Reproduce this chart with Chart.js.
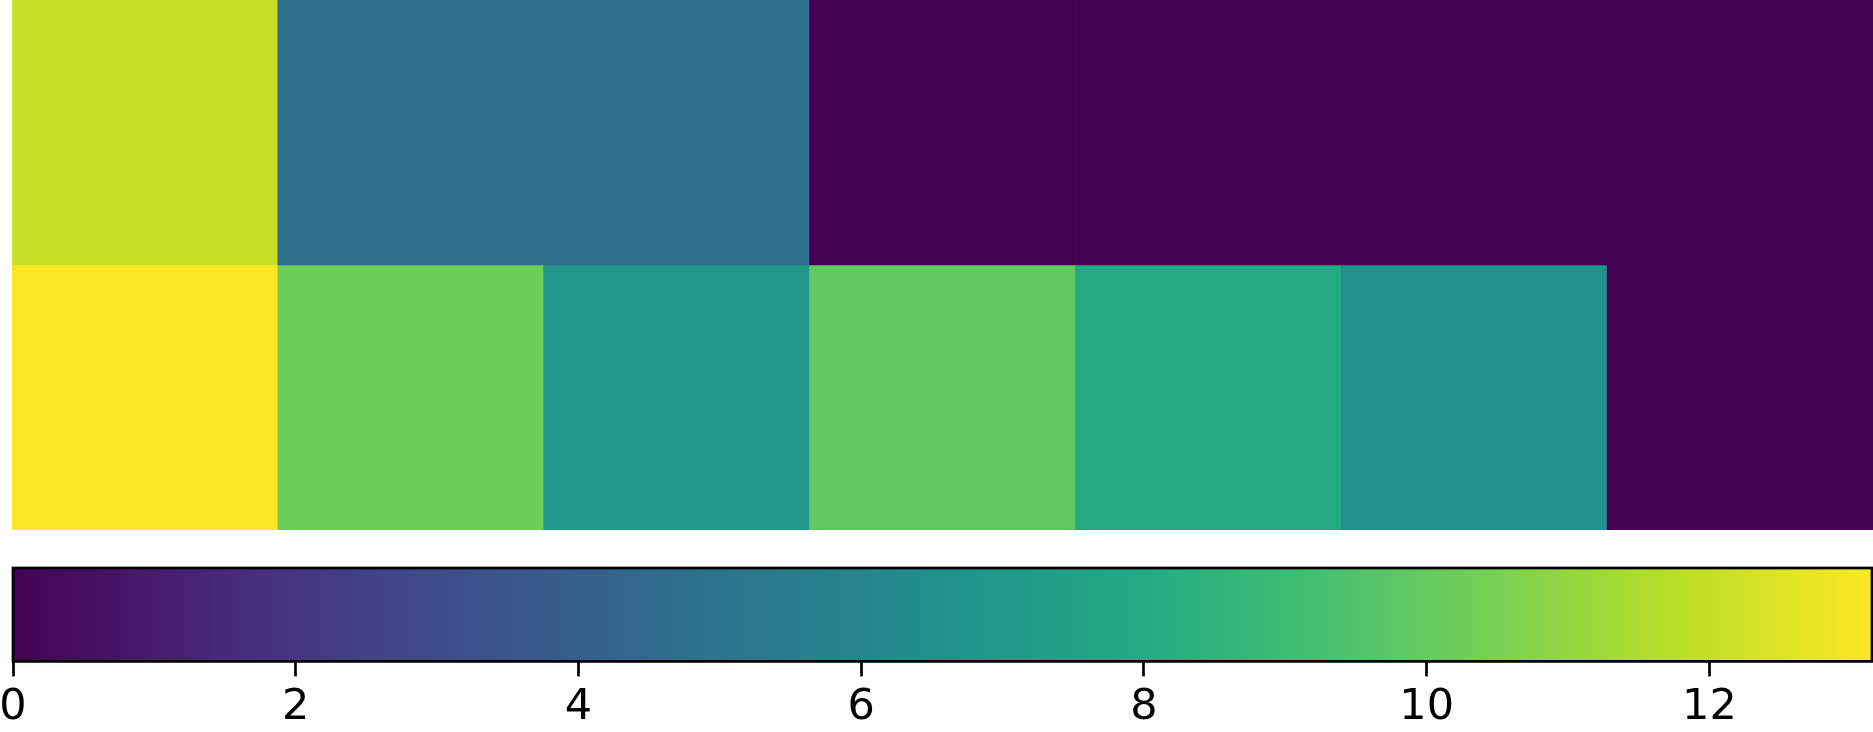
<!DOCTYPE html>
<html><head><meta charset="utf-8">
<script src="https://cdn.jsdelivr.net/npm/chart.js@4"></script>
<style>
html,body{margin:0;padding:0;background:#fff;overflow:hidden;width:1873px;height:732px}
#hm{position:absolute;left:0;top:0}
#cb{position:absolute;left:0;top:560px}
</style></head><body>
<canvas id="hm" width="1873" height="530"></canvas>
<canvas id="cb" width="1873" height="181"></canvas>
<script>
// ---- data ----
const columns = ['c0','c1','c2','c3','c4','c5','c6'];
const rowNames = ['top','bottom'];
const topRow = [12.0, 4.7, 4.7, 0, 0, 0, 0];
const bottomRow = [13.15, 10.2, 7.0, 9.9, 8.0, 6.6, 0];
const colorbarTicks = [0, 2, 4, 6, 8, 10, 12];
const vmin = 0;
const vmax = Math.max(...topRow, ...bottomRow);

// ---- viridis colormap ----
const viridisStops = [
  [0.000, '#440154'], [0.100, '#482475'], [0.125, '#472d7b'], [0.200, '#414487'],
  [0.250, '#3b528b'], [0.300, '#355f8d'], [0.375, '#2c728e'], [0.400, '#2a788e'],
  [0.500, '#21918c'], [0.600, '#22a884'], [0.625, '#28ae80'], [0.700, '#44bf70'],
  [0.750, '#5ec962'], [0.800, '#7ad151'], [0.875, '#addc30'], [0.900, '#bddf26'],
  [1.000, '#fde725']
];
function hex2rgb(h){return [1,3,5].map(i=>parseInt(h.substr(i,2),16));}
function viridis(t){
  t = Math.max(0, Math.min(1, t));
  for (let i = 1; i < viridisStops.length; i++) {
    const [t1, c1] = viridisStops[i];
    const [t0, c0] = viridisStops[i-1];
    if (t <= t1) {
      const f = (t - t0) / (t1 - t0);
      const a = hex2rgb(c0), b = hex2rgb(c1);
      const c = a.map((v, k) => Math.round(v + (b[k] - v) * f));
      return `rgb(${c[0]},${c[1]},${c[2]})`;
    }
  }
  return viridisStops[viridisStops.length-1][1];
}
const colorOf = v => viridis((v - vmin) / (vmax - vmin));

// ---- heatmap ----
new Chart(document.getElementById('hm'), {
  type: 'bar',
  data: {
    labels: columns,
    datasets: [
      { label: rowNames[0], data: topRow.map(() => [1, 2]), backgroundColor: topRow.map(colorOf) },
      { label: rowNames[1], data: bottomRow.map(() => [0, 1]), backgroundColor: bottomRow.map(colorOf) }
    ]
  },
  options: {
    responsive: false, animation: false, devicePixelRatio: 1,
    layout: { padding: { left: 12, right: 0, top: 0, bottom: 0 } },
    plugins: { legend: { display: false }, tooltip: { enabled: false } },
    datasets: { bar: { grouped: false, barPercentage: 1, categoryPercentage: 1, borderWidth: 0 } },
    scales: {
      x: { display: false },
      y: { display: false, min: 0, max: 2 }
    }
  }
});

// ---- colorbar ----
const colorbarPlugin = {
  id: 'colorbar',
  beforeDatasetsDraw(chart) {
    const { ctx, chartArea: a, scales: { x } } = chart;
    const x0 = x.getPixelForValue(vmin), x1 = x.getPixelForValue(vmax);
    const g = ctx.createLinearGradient(x0, 0, x1, 0);
    viridisStops.forEach(([t, c]) => g.addColorStop(t, c));
    ctx.save();
    ctx.fillStyle = g;
    ctx.fillRect(x0, a.top, x1 - x0, a.bottom - a.top);
    ctx.restore();
  },
  afterDatasetsDraw(chart) {
    const { ctx, chartArea: a, scales: { x } } = chart;
    const x0 = x.getPixelForValue(vmin), x1 = x.getPixelForValue(vmax);
    ctx.save();
    ctx.strokeStyle = '#000';
    ctx.lineWidth = 2.7;
    ctx.strokeRect(x0, a.top, x1 - x0, a.bottom - a.top);
    ctx.restore();
  }
};

new Chart(document.getElementById('cb'), {
  type: 'scatter',
  data: { datasets: [{ data: [] }] },
  plugins: [colorbarPlugin],
  options: {
    responsive: false, animation: false, devicePixelRatio: 1,
    layout: { padding: { left: 13, right: 1, top: 8, bottom: 1 } },
    plugins: { legend: { display: false }, tooltip: { enabled: false } },
    scales: {
      x: {
        type: 'linear', position: 'bottom', min: vmin, max: vmax,
        afterBuildTicks: s => { s.ticks = colorbarTicks.map(v => ({ value: v })); },
        afterFit: s => { s.paddingLeft = 0; s.paddingRight = 0; },
        ticks: { font: { family: 'DejaVu Sans', size: 43 }, color: '#000', padding: 6, maxRotation: 0, autoSkip: false,
                 callback: v => String(v) },
        grid: { display: true, drawOnChartArea: false, drawTicks: true, tickLength: 15, tickWidth: 2.7, tickColor: '#000' },
        border: { display: false }
      },
      y: { display: false, min: 0, max: 1 }
    }
  }
});
</script>
</body></html>
